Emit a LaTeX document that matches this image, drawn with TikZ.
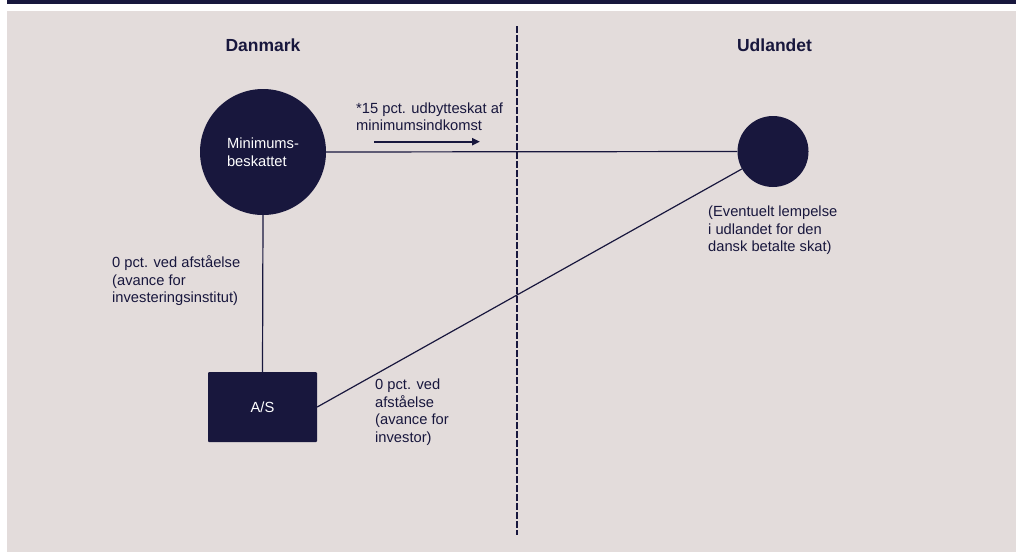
\documentclass[tikz,border=0pt]{standalone}
\usepackage{fontspec}
\setmainfont{Liberation Sans}
\usetikzlibrary{arrows.meta}
\definecolor{navy}{HTML}{18173D}
\definecolor{paper}{HTML}{E3DCDB}

\begin{document}
\begin{tikzpicture}[x=1pt,y=-1pt,
    txt/.style={text=navy,font=\fontsize{14.7}{17.6}\selectfont,align=left,inner sep=0,anchor=base west},
    head/.style={text=navy,font=\fontsize{17.5}{21}\selectfont\bfseries,inner sep=0,anchor=base},
    link/.style={draw=navy,line width=1.2pt}]

	\useasboundingbox (0,0) rectangle (1016,557);
	\fill[navy] (7,0) rectangle (1016,4);
	\fill[paper] (7,11) rectangle (1016,552);

	% border between the two countries
	\draw[navy,line width=2pt,dash pattern=on 7pt off 2pt] (517,26) -- (517,535);

	\node[head] (dk) at (263,51.7) {Danmark};
	\node[head] (ud) at (774.5,51.7) {Udlandet};

	\node[circle,fill=navy,text=white,align=left,inner sep=0,minimum size=126pt,
        font=\fontsize{14.7}{18}\selectfont] (minbesk) at (263,152) {Minimums-\\beskattet};
	\node[circle,fill=navy,inner sep=0,minimum size=71pt] (udl) at (773,151.5) {};
	\node[fill=navy,text=white,rounded corners=1pt,minimum width=109pt,minimum height=70pt,
        font=\fontsize{14.7}{17.6}\selectfont] (as) at (262.5,407) {A/S};

	\draw[link] (minbesk.east) -- (udl.west);
	\draw[link] (minbesk.south) -- (as.north);
	\draw[link] (as.east) -- (udl);

	\coordinate (arrs) at (374,141.7); \coordinate (arre) at (480,141.7);
	\draw[navy,line width=2pt,-{Triangle[length=8pt,width=7pt]}] (arrs) -- (arre);

	% base = baseline of the last line
	\node[txt] (divlbl) at (356,130.7) {*15 pct. udbytteskat af\\minimumsindkomst};
	\node[txt] (afst1) at (112,302.7) {0 pct. ved afståelse\\(avance for\\investeringsinstitut)};
	\node[txt] (afst2) at (375,442.3) {0 pct. ved\\afståelse\\(avance for\\investor)};
	\node[txt] (lemp) at (708,251.7) {(Eventuelt lempelse\\i udlandet for den\\dansk betalte skat)};
\end{tikzpicture}
\end{document}
